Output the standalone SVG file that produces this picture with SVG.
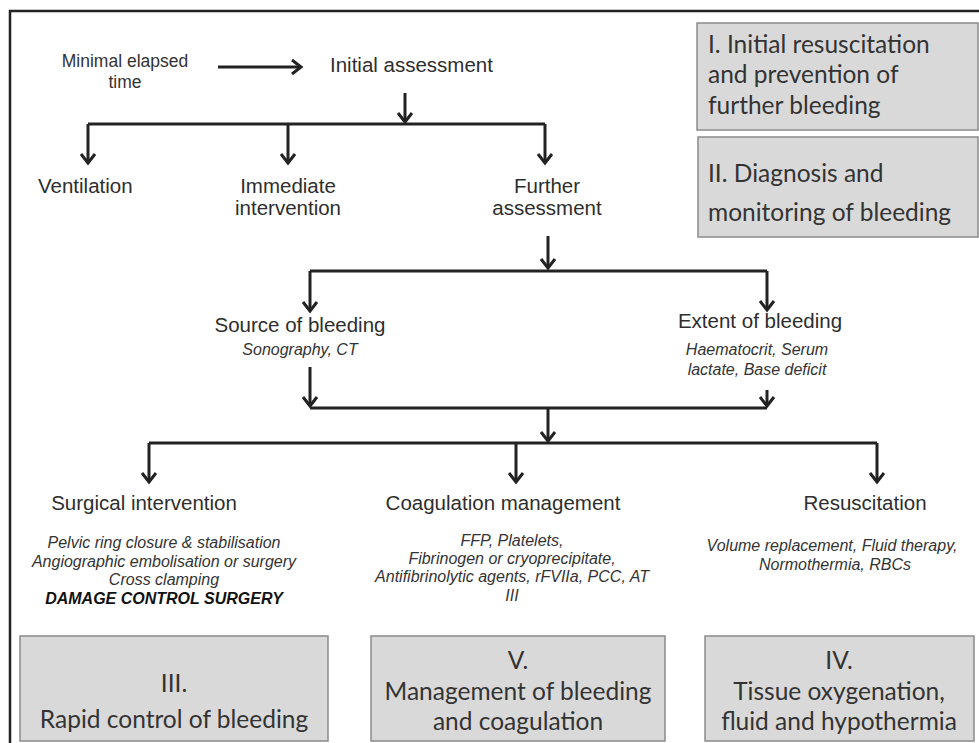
<svg xmlns="http://www.w3.org/2000/svg" width="979" height="743" viewBox="0 0 979 743">
<style>
.t{font-family:"Liberation Sans",Arial,sans-serif;font-size:20.5px;fill:#2e2e2e}
.s{font-family:"Liberation Sans",Arial,sans-serif;font-size:17.5px;fill:#333}
.i{font-family:"Liberation Sans",Arial,sans-serif;font-size:16px;font-style:italic;fill:#333}
.b{font-family:"Liberation Sans",Arial,sans-serif;font-size:16px;font-style:italic;font-weight:bold;fill:#111}
.box{fill:#d9d9d9;stroke:#8a8a8a;stroke-width:1.5}
.bt{font-family:Lato,"Open Sans",sans-serif;font-size:24.5px;fill:#333}
.ln{fill:none;stroke:#222;stroke-width:3}
.ar{fill:none;stroke:#222;stroke-width:3;marker-end:url(#ah)}
</style>
<defs>
<marker id="ah" markerUnits="userSpaceOnUse" markerWidth="20" markerHeight="20" refX="0" refY="0" viewBox="-12 -10 14 20" orient="auto" overflow="visible">
<path d="M-9,-7 L0,0 L-9,7" fill="none" stroke="#222" stroke-width="3" stroke-linejoin="miter"/>
</marker>
</defs>
<rect width="979" height="743" fill="#fff"/>
<path d="M10,743 V11 H979" fill="none" stroke="#222" stroke-width="2.5"/>

<g id="connectors">
<path class="ar" d="M218,67 H301"/>
<path class="ar" d="M405,93 V122"/>
<path class="ln" d="M88,124 H545"/>
<path class="ar" d="M88,124 V163"/>
<path class="ar" d="M288,124 V163"/>
<path class="ar" d="M545,124 V163"/>
<path class="ar" d="M548,236 V268"/>
<path class="ln" d="M310,271 H767"/>
<path class="ar" d="M310,271 V311"/>
<path class="ar" d="M767,271 V310"/>
<path class="ar" d="M310,367 V406"/>
<path class="ln" d="M310,408 H767"/>
<path class="ar" d="M767,390 V406"/>
<path class="ar" d="M548,408 V441"/>
<path class="ln" d="M149,443 H877"/>
<path class="ar" d="M149,443 V482"/>
<path class="ar" d="M516,443 V482"/>
<path class="ar" d="M877,443 V482"/>
</g>

<g id="minimal-elapsed-time">
<text class="s" x="125" y="67" text-anchor="middle">Minimal elapsed</text>
<text class="s" x="125" y="88" text-anchor="middle">time</text>
</g>
<g id="initial-assessment"><text class="t" x="330" y="72">Initial assessment</text></g>
<g id="ventilation"><text class="t" x="38" y="193">Ventilation</text></g>
<g id="immediate-intervention">
<text class="t" x="288" y="193" text-anchor="middle">Immediate</text>
<text class="t" x="288" y="215" text-anchor="middle">intervention</text>
</g>
<g id="further-assessment">
<text class="t" x="547" y="193" text-anchor="middle">Further</text>
<text class="t" x="547" y="215" text-anchor="middle">assessment</text>
</g>
<g id="source-of-bleeding">
<text class="t" x="300" y="332" text-anchor="middle">Source of bleeding</text>
<text class="i" x="300" y="355" text-anchor="middle">Sonography, CT</text>
</g>
<g id="extent-of-bleeding">
<text class="t" x="760" y="328" text-anchor="middle">Extent of bleeding</text>
<text class="i" x="757" y="355" text-anchor="middle">Haematocrit, Serum</text>
<text class="i" x="757" y="375" text-anchor="middle">lactate, Base deficit</text>
</g>
<g id="surgical-intervention">
<text class="t" x="144" y="510" text-anchor="middle">Surgical intervention</text>
<text class="i" x="164" y="548" text-anchor="middle">Pelvic ring closure &amp; stabilisation</text>
<text class="i" x="164" y="567" text-anchor="middle">Angiographic embolisation or surgery</text>
<text class="i" x="164" y="585" text-anchor="middle">Cross clamping</text>
<text class="b" x="164" y="604" text-anchor="middle">DAMAGE CONTROL SURGERY</text>
</g>
<g id="coagulation-management">
<text class="t" x="503" y="510" text-anchor="middle">Coagulation management</text>
<text class="i" x="512" y="546" text-anchor="middle">FFP, Platelets,</text>
<text class="i" x="512" y="564" text-anchor="middle">Fibrinogen or cryoprecipitate,</text>
<text class="i" x="512" y="582" text-anchor="middle">Antifibrinolytic agents, rFVIIa, PCC, AT</text>
<text class="i" x="512" y="601" text-anchor="middle">III</text>
</g>
<g id="resuscitation">
<text class="t" x="865" y="510" text-anchor="middle">Resuscitation</text>
<text class="i" x="832" y="551" text-anchor="middle">Volume replacement, Fluid therapy,</text>
<text class="i" x="835" y="570" text-anchor="middle">Normothermia, RBCs</text>
</g>

<g id="box-I">
<rect class="box" x="697" y="23" width="281" height="107"/>
<text class="bt" x="708" y="53">I. Initial resuscitation</text>
<text class="bt" x="708" y="83">and prevention of</text>
<text class="bt" x="708" y="114">further bleeding</text>
</g>
<g id="box-II">
<rect class="box" x="698" y="137" width="280" height="100"/>
<text class="bt" x="708" y="182">II. Diagnosis and</text>
<text class="bt" x="708" y="221">monitoring of bleeding</text>
</g>
<g id="box-III">
<rect class="box" x="20" y="636" width="308" height="105"/>
<text class="bt" x="174" y="692" text-anchor="middle">III.</text>
<text class="bt" x="174" y="728" text-anchor="middle">Rapid control of bleeding</text>
</g>
<g id="box-V">
<rect class="box" x="371" y="636" width="294" height="105"/>
<text class="bt" x="518" y="669" text-anchor="middle">V.</text>
<text class="bt" x="518" y="700" text-anchor="middle">Management of bleeding</text>
<text class="bt" x="518" y="730" text-anchor="middle">and coagulation</text>
</g>
<g id="box-IV">
<rect class="box" x="705" y="636" width="269" height="105"/>
<text class="bt" x="839" y="669" text-anchor="middle">IV.</text>
<text class="bt" x="839" y="700" text-anchor="middle">Tissue oxygenation,</text>
<text class="bt" x="839" y="730" text-anchor="middle">fluid and hypothermia</text>
</g>
</svg>
